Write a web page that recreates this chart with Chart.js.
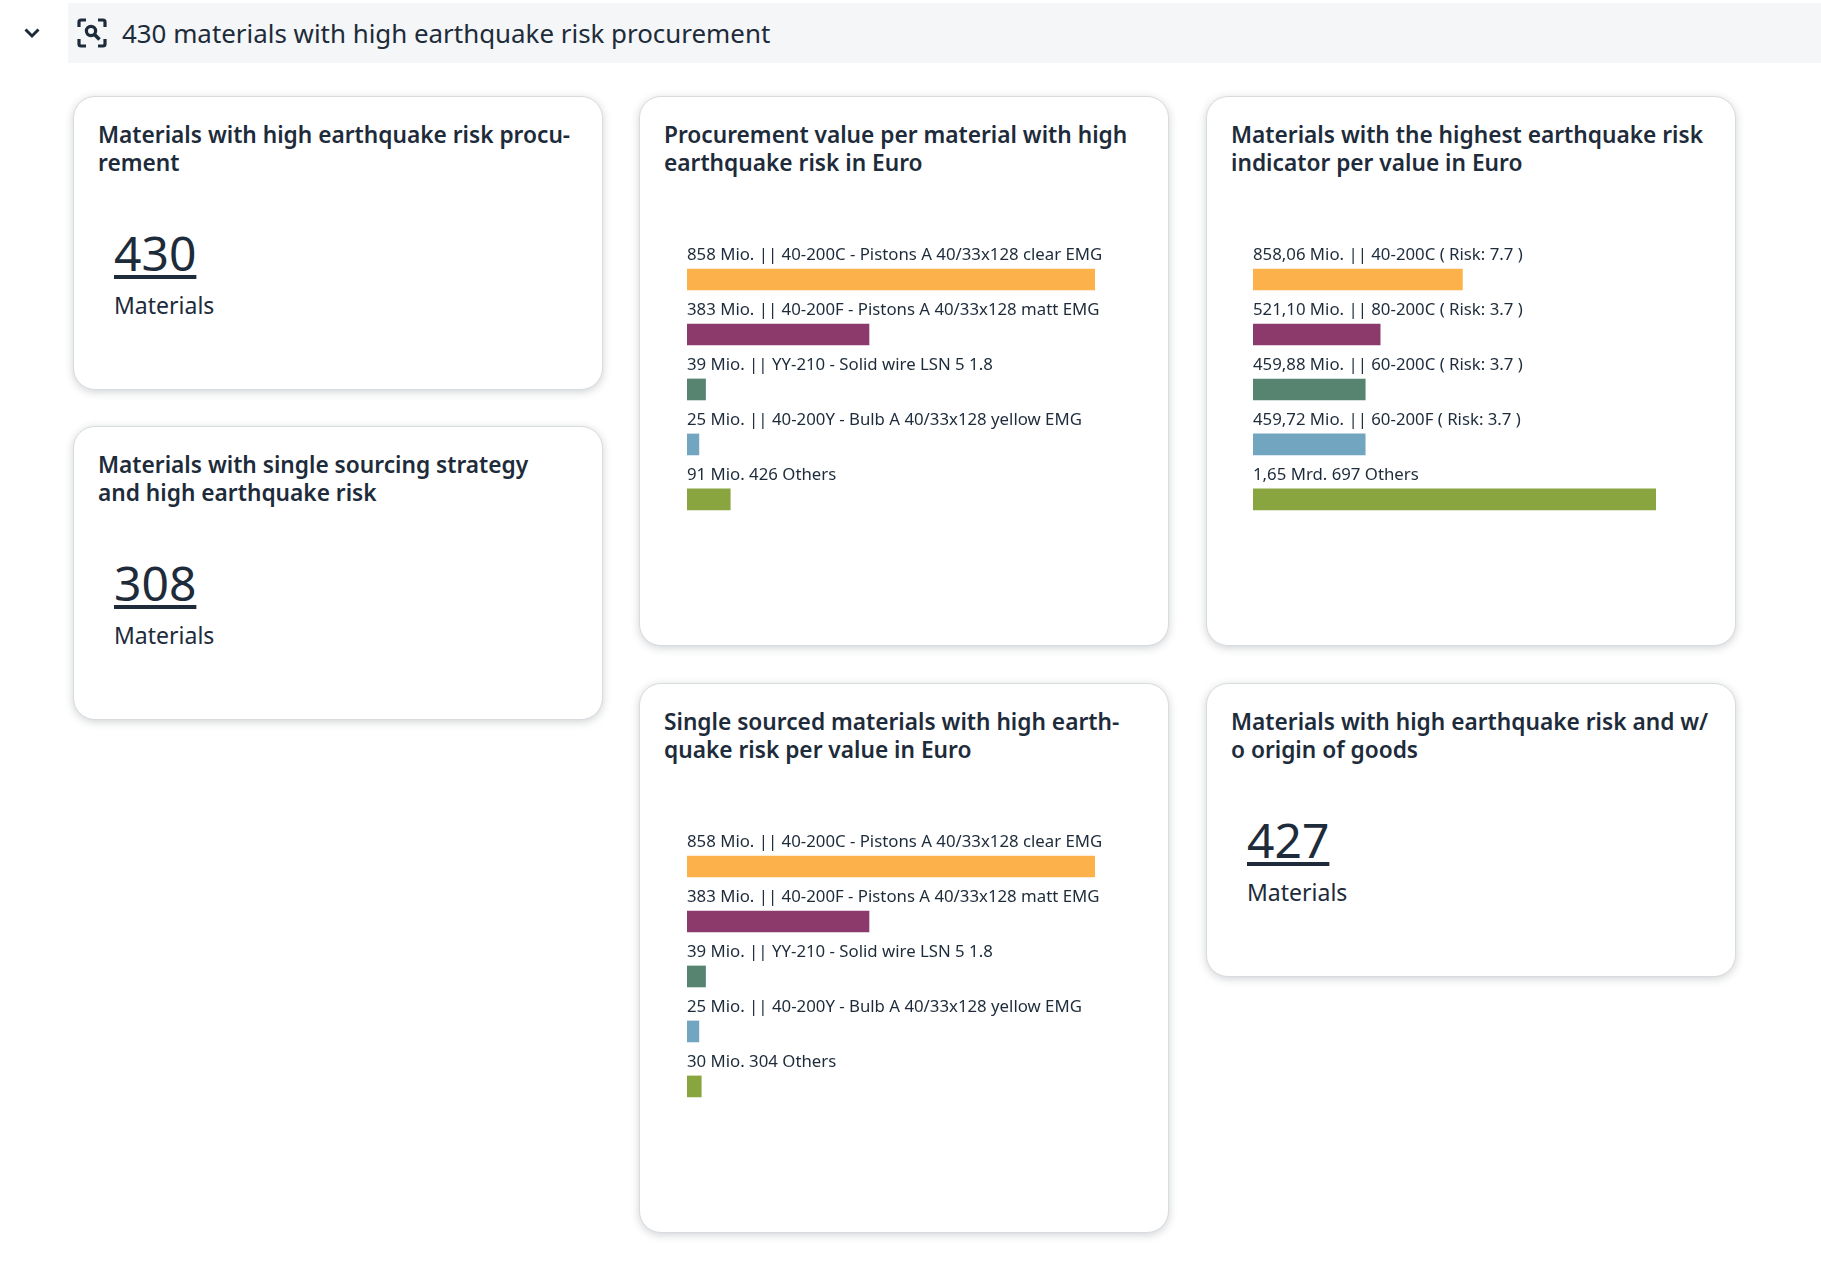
<!DOCTYPE html>
<html>
<head>
<meta charset="utf-8">
<title>430 materials with high earthquake risk procurement</title>
<script src="https://cdn.jsdelivr.net/npm/chart.js@4"></script>
<style>
    body { margin: 0; background: #fff; width: 1821px; height: 1275px; position: relative; overflow: hidden;
        font-family: "Noto Sans", sans-serif; color: #1d2b3a; }
    .chevron { position: absolute; left: 23px; top: 25px; }
    .header { position: absolute; left: 68px; top: 3px; width: 1753px; height: 60px; background: #f4f6f7; }
    .header svg { position: absolute; left: 9px; top: 15px; }
    .header span { position: absolute; left: 54px; top: 12px; font-size: 25.9px; line-height: 36px; }
    .card { position: absolute; box-sizing: border-box; width: 530px; background: #fff; border: 1px solid #d8dcdf;
        border-radius: 22px; box-shadow: 0 2px 9px rgba(40, 50, 60, .22); }
    .card h3 { position: absolute; left: 24px; top: 24px; margin: 0; font-size: 22.7px; line-height: 28px; font-weight: 600; white-space: pre; }
    .num { position: absolute; left: 40px; top: 127.5px; font-size: 48px; line-height: 56px; text-decoration: underline; text-decoration-thickness: 4px; text-underline-offset: 4px; text-decoration-skip-ink: none; }
    .unit { position: absolute; left: 40px; top: 193px; font-size: 23px; line-height: 30px; }
    canvas { position: absolute; }
</style>
</head>
<body>
<svg class="chevron" width="18" height="16" viewBox="0 0 18 16"><path d="M2.5 4.5L9 11l6.5-6.5" fill="none" stroke="#1d2b3a" stroke-width="3"/></svg>
<div class="header">
    <svg width="30" height="30" viewBox="0 0 30 30" fill="none" stroke="#1d2b3a" stroke-width="3.2">
        <path d="M2 9V4a2 2 0 0 1 2-2h5M21 2h5a2 2 0 0 1 2 2v5M28 21v5a2 2 0 0 1-2 2h-5M9 28H4a2 2 0 0 1-2-2v-5"/>
        <circle cx="14" cy="13" r="4.6"/><path d="M17.5 16.5l5 5" stroke-width="3.6"/>
    </svg>
    <span>430 materials with high earthquake risk procurement</span>
</div>

<div class="card" style="left:73px;top:96px;height:294px"><h3>Materials with high earthquake risk procu-
rement</h3><div class="num">430</div><div class="unit">Materials</div></div>
<div class="card" style="left:73px;top:426px;height:294px"><h3>Materials with single sourcing strategy
and high earthquake risk</h3><div class="num">308</div><div class="unit">Materials</div></div>
<div class="card" style="left:639px;top:96px;height:550px"><h3>Procurement value per material with high
earthquake risk in Euro</h3></div>
<div class="card" style="left:1206px;top:96px;height:550px"><h3>Materials with the highest earthquake risk
indicator per value in Euro</h3></div>
<div class="card" style="left:639px;top:683px;height:550px"><h3>Single sourced materials with high earth-
quake risk per value in Euro</h3></div>
<div class="card" style="left:1206px;top:683px;height:294px"><h3>Materials with high earthquake risk and w/
o origin of goods</h3><div class="num">427</div><div class="unit">Materials</div></div>

<canvas id="chartValue" width="440" height="305" style="left:687px;top:232px"></canvas>
<canvas id="chartRisk" width="440" height="305" style="left:1253px;top:232px"></canvas>
<canvas id="chartSingle" width="440" height="305" style="left:687px;top:819px"></canvas>

<script>
const valueLabels = ['858 Mio. || 40-200C - Pistons A 40/33x128 clear EMG', '383 Mio. || 40-200F - Pistons A 40/33x128 matt EMG', '39 Mio. || YY-210 - Solid wire LSN 5 1.8', '25 Mio. || 40-200Y - Bulb A 40/33x128 yellow EMG', '91 Mio. 426 Others'];
const valueData = [858, 383, 39, 25, 91];

const riskLabels = ['858,06 Mio. || 40-200C ( Risk: 7.7 )', '521,10 Mio. || 80-200C ( Risk: 3.7 )', '459,88 Mio. || 60-200C ( Risk: 3.7 )', '459,72 Mio. || 60-200F ( Risk: 3.7 )', '1,65 Mrd. 697 Others'];
const riskData = [858.06, 521.10, 459.88, 459.72, 1650];

const singleLabels = ['858 Mio. || 40-200C - Pistons A 40/33x128 clear EMG', '383 Mio. || 40-200F - Pistons A 40/33x128 matt EMG', '39 Mio. || YY-210 - Solid wire LSN 5 1.8', '25 Mio. || 40-200Y - Bulb A 40/33x128 yellow EMG', '30 Mio. 304 Others'];
const singleData = [858, 383, 39, 25, 30];

const barColors = ['#fdb14a', '#8b3a6b', '#568471', '#72a5bf', '#88a540'];

function barChart(id, labels, data, xMax) {
    new Chart(document.getElementById(id), {
        type: 'bar',
        data: {
            labels: labels,
            datasets: [{
                data: data,
                backgroundColor: barColors,
                barThickness: 21
            }]
        },
        options: {
            indexAxis: 'y',
            responsive: false,
            animation: false,
            layout: { padding: { top: 20 } },
            plugins: { legend: { display: false }, tooltip: { enabled: false } },
            scales: {
                x: { display: false, min: 0, max: xMax },
                y: {
                    grid: { display: false, drawTicks: false },
                    border: { display: false },
                    ticks: {
                        mirror: true,
                        padding: 0,
                        labelOffset: -24,
                        autoSkip: false,
                        color: '#1d2b3a',
                        font: { family: '"Noto Sans"', size: 16.8 }
                    }
                }
            }
        }
    });
}

barChart('chartValue', valueLabels, valueData, 926);
barChart('chartRisk', riskLabels, riskData, 1803);
barChart('chartSingle', singleLabels, singleData, 926);
</script>
</body>
</html>
